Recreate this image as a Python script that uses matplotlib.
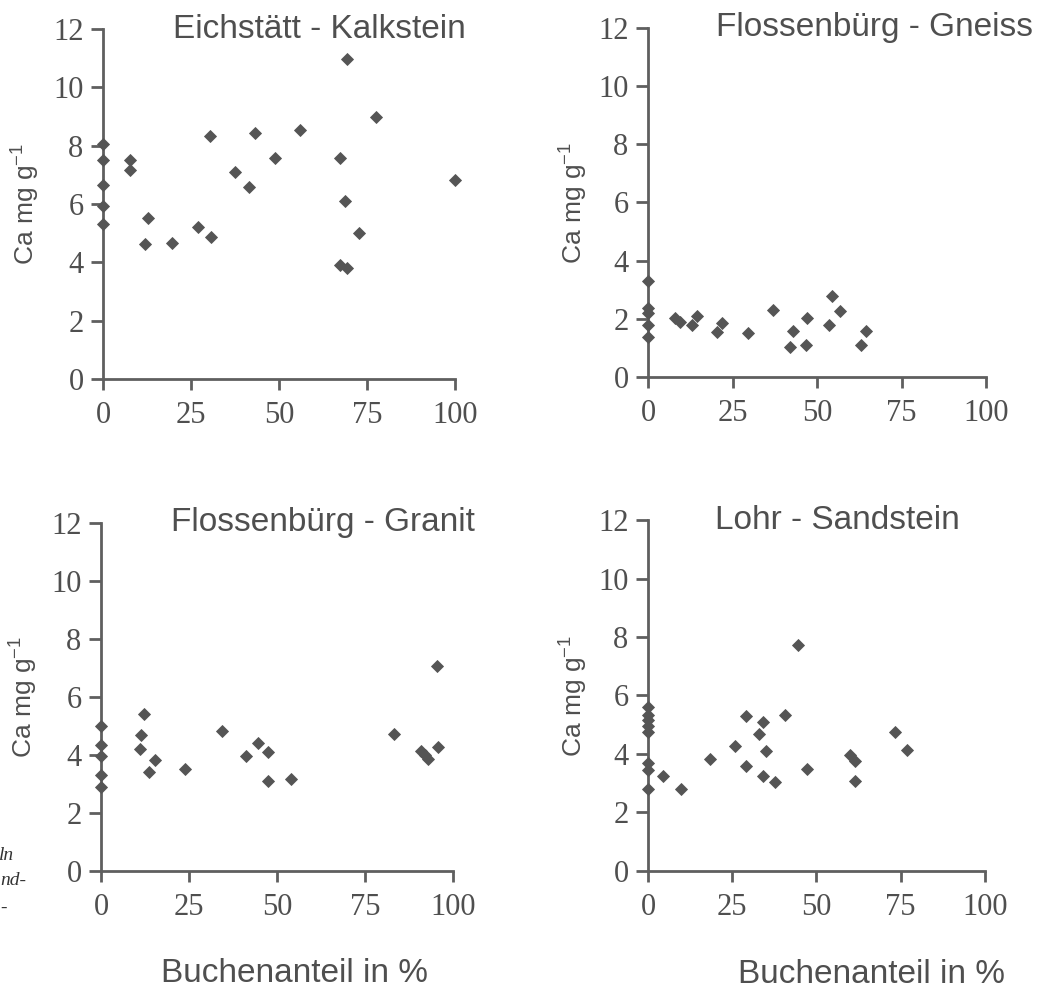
import matplotlib
matplotlib.use("Agg")
import matplotlib.pyplot as plt

plt.rcParams["mathtext.fontset"] = "custom"
plt.rcParams["mathtext.rm"] = "Liberation Sans"
plt.rcParams["mathtext.it"] = "Liberation Sans"

# --------------------------------------------------
# data
# --------------------------------------------------
titles = ["Eichstätt - Kalkstein", "Flossenbürg - Gneiss",
          "Flossenbürg - Granit", "Lohr - Sandstein"]

kalk_x = [0, 0, 0, 0, 0, 7.8, 7.8, 12.8, 12.0, 19.6, 27.1, 30.3, 30.8,
          37.6, 41.4, 43.3, 48.8, 56.1, 67.3, 69.4, 68.7, 72.7, 67.3, 69.2,
          77.5, 100]
kalk_y = [8.05, 7.5, 6.67, 5.95, 5.3, 7.52, 7.17, 5.53, 4.64, 4.68, 5.21,
          8.33, 4.87, 7.09, 6.6, 8.44, 7.59, 8.55, 7.58, 10.98, 6.09, 5.02,
          3.91, 3.8, 8.98, 6.83]

gneiss_x = [0, 0, 0, 0, 0, 8.1, 9.6, 13.0, 14.5, 20.4, 21.9, 29.6, 37.1,
            42.1, 43.0, 46.8, 47.0, 53.4, 54.4, 56.8, 63.0, 64.4]
gneiss_y = [3.31, 2.38, 2.21, 1.8, 1.37, 2.03, 1.88, 1.8, 2.09, 1.56, 1.86,
            1.51, 2.3, 1.03, 1.59, 1.09, 2.03, 1.8, 2.8, 2.27, 1.09, 1.59]

granit_x = [0, 0, 0, 0, 0, 11.1, 11.5, 12.3, 13.6, 15.3, 24.0, 34.4, 41.2,
            44.7, 47.5, 47.5, 53.9, 83.2, 90.8, 92.0, 92.9, 95.5, 95.7]
granit_y = [5.0, 4.35, 3.95, 3.3, 2.9, 4.19, 4.69, 5.42, 3.42, 3.82, 3.5,
            4.83, 3.98, 4.4, 4.09, 3.09, 3.18, 4.72, 4.15, 4.01, 3.86, 7.08,
            4.28]

sand_x = [0, 0, 0, 0, 0, 0, 0, 0, 4.4, 9.8, 18.3, 25.9, 29.1, 29.2, 32.8,
          34.0, 34.0, 35.1, 37.8, 40.7, 44.4, 47.3, 60.0, 61.3, 61.5, 73.3,
          76.8]
sand_y = [5.6, 5.35, 5.15, 4.95, 4.75, 3.7, 3.45, 2.8, 3.25, 2.8, 3.83,
          4.28, 5.3, 3.6, 4.7, 5.1, 3.24, 4.09, 3.05, 5.33, 7.71, 3.48, 3.98,
          3.77, 3.07, 4.75, 4.14]

x_ticks = [0, 25, 50, 75, 100]
y_ticks = [0, 2, 4, 6, 8, 10, 12]

# --------------------------------------------------
# styling
# --------------------------------------------------
TEXT = "#4f4f4f"
LINE = "#5f5f5f"
MARK = "#555555"
SERIF = "Liberation Serif"
SANS = "Liberation Sans"

fig = plt.figure(figsize=(10.63, 9.92), dpi=100)

# [left, bottom, width, height]
boxes = [
    [0.0969, 0.6179, 0.3311, 0.3528],
    [0.6096, 0.6200, 0.3180, 0.3518],
    [0.0950, 0.1220, 0.3311, 0.3508],
    [0.6096, 0.1220, 0.3170, 0.3538],
]
series = [(kalk_x, kalk_y), (gneiss_x, gneiss_y),
          (granit_x, granit_y), (sand_x, sand_y)]

for i, (box, (xs, ys), title) in enumerate(zip(boxes, series, titles)):
    ax = fig.add_axes(box)
    ax.plot(xs, ys, linestyle="none", marker="D", ms=6.4,
            color=MARK, mec=MARK, mew=0.6, clip_on=False, zorder=5)

    ax.set_xlim(0, 100)
    ax.set_ylim(0, 12)
    ax.set_xticks(x_ticks)
    ax.set_yticks(y_ticks)

    for side in ["top", "right"]:
        ax.spines[side].set_visible(False)
    for side in ["left", "bottom"]:
        ax.spines[side].set_color(LINE)
        ax.spines[side].set_linewidth(2.0)

    ax.tick_params(axis="x", direction="out", length=8, width=2.0,
                   color=LINE, pad=8, labelsize=22, labelcolor=TEXT)
    ax.tick_params(axis="y", direction="out", length=9, width=2.0,
                   color=LINE, pad=5, labelsize=22, labelcolor=TEXT)
    for lab in ax.get_xticklabels() + ax.get_yticklabels():
        lab.set_fontfamily(SERIF)

    # panel title sits on the 12 line, starting at ~20 %
    ax.text(20, 12, title, ha="left", va="center", fontsize=24,
            color=TEXT, family=SANS, clip_on=False)

    ax.text(-0.22, 0.5, r"Ca mg g$^{-1}$", transform=ax.transAxes,
            rotation=90, ha="center", va="center", fontsize=19,
            color=TEXT, family=SANS)

    if i == 2:
        ax.text(0.551, -0.296, "Buchenanteil in %", transform=ax.transAxes,
                ha="center", va="center", fontsize=24, color=TEXT,
                family=SANS)
    if i == 3:
        ax.text(0.662, -0.296, "Buchenanteil in %", transform=ax.transAxes,
                ha="center", va="center", fontsize=24, color=TEXT,
                family=SANS)

# cut-off words from the neighbouring book page
for txt, xf, yf in [("ln", 0.013, 0.138), ("nd-", 0.025, 0.112),
                    ("-", 0.006, 0.084)]:
    fig.text(xf, yf, txt, ha="right", va="center", fontsize=14,
             style="italic", family=SERIF, color="#333333")

fig.savefig("out.png", dpi=100)
